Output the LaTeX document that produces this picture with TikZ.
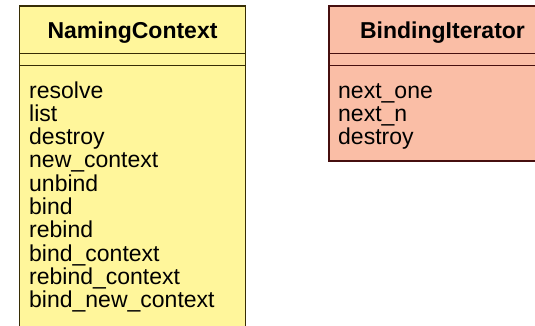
\documentclass[tikz,border=0pt]{standalone}
\usepackage{fontspec}
\setmainfont{Liberation Sans}
\definecolor{ncfill}{RGB}{255,246,155}
\definecolor{ncline}{RGB}{55,45,5}
\definecolor{bifill}{RGB}{250,190,166}
\definecolor{biline}{RGB}{70,15,15}
\tikzset{
  titletext/.style={anchor=base, inner sep=0pt, font=\fontsize{23}{23}\selectfont\bfseries},
  optext/.style={anchor=base west, inner sep=0pt, font=\fontsize{23}{23}\selectfont},
  boxline/.style={line width=1.1pt},
  divline/.style={line width=1.4pt}
}
\begin{document}
\begin{tikzpicture}[x=1pt,y=1pt]
\useasboundingbox (0,0) rectangle (535,325);
\begin{scope}
\clip (0,0) rectangle (535,325);
% NamingContext
\fill[ncfill] (19.5,-10) rectangle (245.5,319);
\draw[draw=ncline, boxline] (19.5,-10) -- (19.5,319) -- (245.5,319) -- (245.5,-10);
\draw[draw=ncline, divline] (19.5,271.5) -- (245.5,271.5) (19.5,259.5) -- (245.5,259.5);
% BindingIterator
\fill[bifill] (329,164) rectangle (545,319);
\draw[draw=biline, boxline] (545,319) -- (329,319) -- (329,164) -- (545,164);
\draw[draw=biline, divline] (329,271.5) -- (545,271.5) (329,259.5) -- (545,259.5);
\end{scope}
\node[titletext] (nctitle) at (132.5,286.7) {NamingContext};
\node[titletext] (bititle) at (442.5,286.7) {BindingIterator};
\foreach \t [count=\i] in {resolve,list,destroy,new\_context,unbind,bind,rebind,bind\_context,rebind\_context,bind\_new\_context}
  \node[optext] (ncop\i) at (29,{227-(\i-1)*23.33}) {\t};
\foreach \t [count=\i] in {next\_one,next\_n,destroy}
  \node[optext] (biop\i) at (338,{227-(\i-1)*23.33}) {\t};
\end{tikzpicture}
\end{document}
